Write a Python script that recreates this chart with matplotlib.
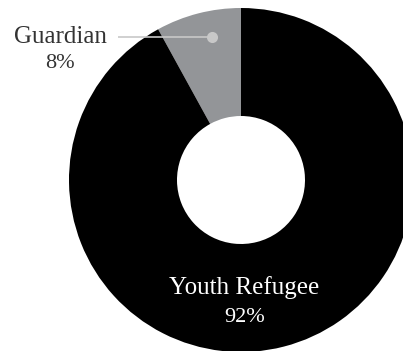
import matplotlib
matplotlib.use("Agg")
import matplotlib.pyplot as plt

# data
labels = ["Guardian", "Youth Refugee"]
shares = [8, 92]
colors = ["#939598", "#000000"]

W, H = 403, 351
fig = plt.figure(figsize=(W / 100, H / 100), dpi=100)
ax = fig.add_axes([0, 0, 1, 1])

cx, cy = 241, H - 180
r_out, r_in = 172, 64

ax.pie(shares, colors=colors, startangle=90, counterclock=True,
       radius=r_out, center=(cx, cy),
       wedgeprops=dict(width=r_out - r_in, linewidth=0))

ax.set_xlim(0, W)
ax.set_ylim(0, H)
ax.set_aspect("equal")
ax.axis("off")

font = ["Liberation Serif", "DejaVu Serif"]

# Guardian label with leader line
ax.plot([118, 212], [H - 37, H - 37], color="#c8c8c8", lw=1.2, solid_capstyle="butt")
ax.plot([212], [H - 37], "o", color="#c8c8c8", ms=8, mec="none")
ax.text(60, H - 37, f"{labels[0]}", ha="center", va="center",
        fontsize=18, color="#333333", family=font)
ax.text(60, H - 64, f"{shares[0]}%", ha="center", va="center",
        fontsize=16, color="#333333", family=font)

# Youth Refugee label inside the ring
ax.text(244, H - 288, labels[1], ha="center", va="center",
        fontsize=18, color="white", family=font)
ax.text(245, H - 317, f"{shares[1]}%", ha="center", va="center",
        fontsize=16, color="white", family=font)

fig.savefig("out.png", dpi=100, facecolor="white")
